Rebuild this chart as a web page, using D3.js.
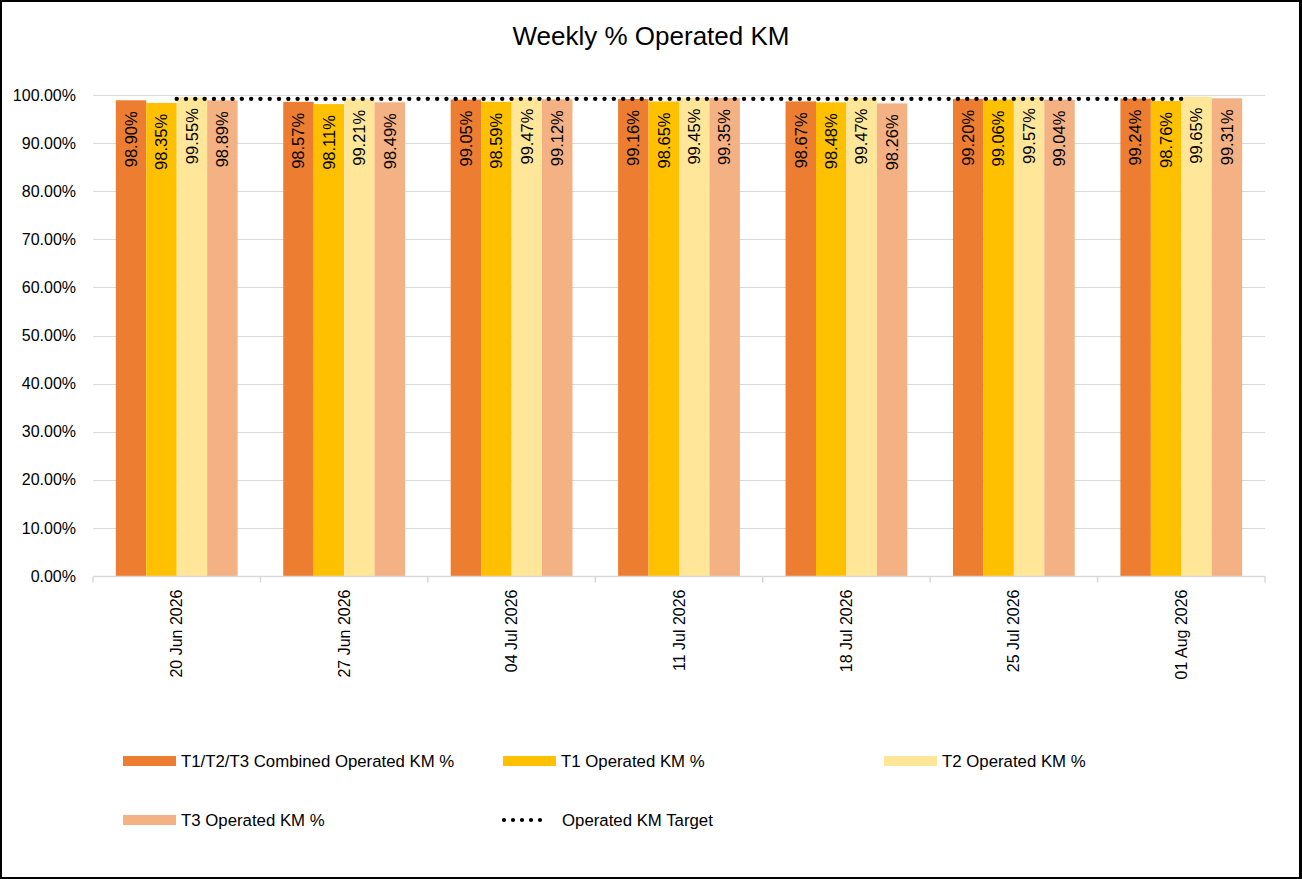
<!DOCTYPE html>
<html>
<head>
<meta charset="utf-8">
<script src="https://cdn.jsdelivr.net/npm/d3@7"></script>
<style>
  html, body { margin: 0; padding: 0; background: #fff; }
  text { font-family: "Liberation Sans", Arial, sans-serif; fill: #000; }
</style>
</head>
<body>
<div id="chart"></div>
<script>
'use strict';
// data
const weeks = ['20 Jun 2026', '27 Jun 2026', '04 Jul 2026', '11 Jul 2026', '18 Jul 2026', '25 Jul 2026', '01 Aug 2026'];
const combinedPct = [98.90, 98.57, 99.05, 99.16, 98.67, 99.20, 99.24];
const t1Pct = [98.35, 98.11, 98.59, 98.65, 98.48, 99.06, 98.76];
const t2Pct = [99.55, 99.21, 99.47, 99.45, 99.47, 99.57, 99.65];
const t3Pct = [98.89, 98.49, 99.12, 99.35, 98.26, 99.04, 99.31];
const targetPct = [99.2, 99.2, 99.2, 99.2, 99.2, 99.2, 99.2];
const yTicks = [0, 10, 20, 30, 40, 50, 60, 70, 80, 90, 100];

const seriesNames = ['T1/T2/T3 Combined Operated KM %', 'T1 Operated KM %', 'T2 Operated KM %', 'T3 Operated KM %'];
const seriesValues = [combinedPct, t1Pct, t2Pct, t3Pct];
const seriesColors = ['#ED7D31', '#FFC000', '#FFE699', '#F4B183'];

const W = 1302, H = 879;
const plot = {left: 93, right: 1265, top: 95, bottom: 576};

const svg = d3.select('#chart').append('svg')
    .attr('width', W)
    .attr('height', H)
    .style('display', 'block');

// outer frame
svg.append('rect').attr('width', W).attr('height', H).attr('fill', '#000');
svg.append('rect').attr('x', 2).attr('y', 2).attr('width', W - 5).attr('height', H - 4).attr('fill', '#fff');

svg.append('text')
    .attr('x', 651)
    .attr('y', 45)
    .attr('text-anchor', 'middle')
    .style('font-size', '26px')
    .text('Weekly % Operated KM');

const x0 = d3.scaleBand()
    .domain(weeks)
    .range([plot.left, plot.right]);

const x1 = d3.scaleBand()
    .domain(d3.range(seriesValues.length))
    .range([0, x0.bandwidth()])
    .paddingInner(0)
    .paddingOuter(0.75);

const y = d3.scaleLinear()
    .domain([0, 100])
    .range([plot.bottom, plot.top]);

// gridlines
svg.append('g')
  .selectAll('line')
  .data(yTicks.filter(d => d > 0))
  .enter().append('line')
    .attr('x1', plot.left)
    .attr('x2', plot.right)
    .attr('y1', d => Math.round(y(d)) + 0.5)
    .attr('y2', d => Math.round(y(d)) + 0.5)
    .attr('stroke', '#d9d9d9')
    .attr('stroke-width', 1);

// y axis labels
const yAxis = svg.append('g')
    .attr('transform', 'translate(' + plot.left + ',0)')
    .call(d3.axisLeft(y).tickValues(yTicks).tickSize(0).tickPadding(17)
      .tickFormat(d => d.toFixed(2) + '%'));
yAxis.select('.domain').remove();
yAxis.selectAll('text').style('font-size', '16px').attr('fill', '#000');

// bars
const groups = svg.append('g')
  .selectAll('g')
  .data(weeks)
  .enter().append('g')
    .attr('transform', d => 'translate(' + x0(d) + ',0)');

groups.selectAll('rect')
    .data((d, i) => seriesValues.map((vals, s) => ({s: s, v: vals[i]})))
  .enter().append('rect')
    .attr('x', d => x1(d.s))
    .attr('width', x1.bandwidth())
    .attr('y', d => y(d.v))
    .attr('height', d => y(0) - y(d.v))
    .attr('fill', d => seriesColors[d.s]);

groups.selectAll('text')
    .data((d, i) => seriesValues.map((vals, s) => ({s: s, v: vals[i]})))
  .enter().append('text')
    .attr('transform', d => 'translate(' + (x1(d.s) + x1.bandwidth() / 2) + ',' + (y(d.v) + 11) + ') rotate(-90)')
    .attr('text-anchor', 'end')
    .attr('dy', '0.35em')
    .style('font-size', '16.5px')
    .text(d => d.v.toFixed(2) + '%');

// x axis
const xAxis = svg.append('g')
    .attr('transform', 'translate(0,' + (plot.bottom + 0.5) + ')');
xAxis.append('line')
    .attr('x1', plot.left)
    .attr('x2', plot.right)
    .attr('stroke', '#d9d9d9')
    .attr('stroke-width', 1.5);
xAxis.selectAll('.tick-mark')
    .data(weeks.map(d => x0(d)).concat([plot.right]))
  .enter().append('line')
    .attr('class', 'tick-mark')
    .attr('x1', d => d)
    .attr('x2', d => d)
    .attr('y1', 0)
    .attr('y2', 6)
    .attr('stroke', '#d9d9d9')
    .attr('stroke-width', 1.5);
xAxis.selectAll('text')
    .data(weeks)
  .enter().append('text')
    .attr('transform', d => 'translate(' + (x0(d) + x0.bandwidth() / 2) + ',13) rotate(-90)')
    .attr('text-anchor', 'end')
    .attr('dy', '0.35em')
    .style('font-size', '16px')
    .text(d => d);

// target line
const line = d3.line()
    .x((d, i) => x0(weeks[i]) + x0.bandwidth() / 2)
    .y(d => y(d));

svg.append('path')
    .datum(targetPct)
    .attr('d', line)
    .attr('fill', 'none')
    .attr('stroke', '#000')
    .attr('stroke-width', 4.4)
    .attr('stroke-linecap', 'round')
    .attr('stroke-dasharray', '0 9.3');

// legend
const legendItems = [
  {name: seriesNames[0], color: seriesColors[0], x: 123, y: 761},
  {name: seriesNames[1], color: seriesColors[1], x: 503, y: 761},
  {name: seriesNames[2], color: seriesColors[2], x: 884, y: 761},
  {name: seriesNames[3], color: seriesColors[3], x: 123, y: 820},
  {name: 'Operated KM Target', color: null, x: 503, y: 820}
];

const legend = svg.append('g')
  .selectAll('g')
  .data(legendItems)
  .enter().append('g')
    .attr('transform', d => 'translate(' + d.x + ',' + d.y + ')');

legend.filter(d => d.color)
  .append('rect')
    .attr('x', 0)
    .attr('y', -5)
    .attr('width', 53)
    .attr('height', 10)
    .attr('fill', d => d.color);

legend.filter(d => !d.color)
  .append('line')
    .attr('x1', 1)
    .attr('x2', 46)
    .attr('stroke', '#000')
    .attr('stroke-width', 4.2)
    .attr('stroke-linecap', 'round')
    .attr('stroke-dasharray', '0 9');

legend.append('text')
    .attr('x', d => d.color ? 58 : 59)
    .attr('dy', '0.35em')
    .style('font-size', '16.8px')
    .text(d => d.name);
</script>
</body>
</html>
